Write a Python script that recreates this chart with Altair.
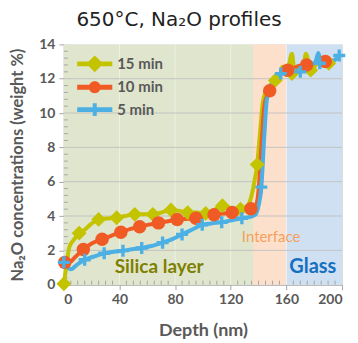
import altair as alt
import pandas as pd

# ---------------- data ----------------
series_names = ["15 min", "10 min", "5 min"]

# dense line points
l15_x = [0, 2, 4, 7, 11, 15, 19, 25, 31, 38, 44, 51, 57, 64, 70, 77, 83, 89, 95, 102, 108, 114, 121, 127,
         132, 135, 137, 139, 141, 143, 145, 148, 152, 155, 157, 160, 164, 166, 169, 172, 174, 177.5, 180, 184, 187, 190.5, 194]
l15_y = [0.05, 1.2, 2.2, 2.6, 3.0, 3.2, 3.5, 3.8, 3.85, 3.9, 4.0, 4.1, 4.1, 4.1, 4.2, 4.35, 4.3, 4.2, 4.2, 4.15, 4.35, 4.6, 4.45, 4.4,
         4.6, 5.2, 6.0, 7.0, 8.8, 10.6, 11.2, 11.6, 11.9, 12.1, 12.7, 12.2, 13.45, 12.3, 12.5, 12.6, 13.45, 12.5, 12.7, 13.0, 12.8, 12.9, 13.1]

l10_x = [0.7, 4, 8, 14, 20, 27.5, 34, 41, 48, 54.5, 61, 68, 75, 81.5, 88, 95, 101, 108, 114, 121, 128, 134.5,
         138, 140, 142, 144, 146, 148, 151, 155, 158, 161, 165, 169, 174.5, 180, 184, 188, 193]
l10_y = [1.3, 1.3, 1.6, 2.05, 2.4, 2.65, 2.85, 3.05, 3.25, 3.38, 3.5, 3.6, 3.7, 3.8, 3.83, 3.87, 3.97, 4.08, 4.14, 4.2, 4.3, 4.43,
         4.6, 5.5, 8.0, 10.3, 11.0, 11.3, 11.8, 12.2, 12.5, 12.5, 12.6, 12.75, 12.8, 12.9, 13.1, 13.0, 13.0]

l5_x = [0, 5, 10, 15, 22, 29, 36, 42.5, 49, 56, 63, 71, 78, 85, 92, 99.5, 106, 113.5, 121, 128, 134, 138,
        140, 142, 144, 146, 149, 152, 156, 160, 163, 166, 170, 174, 178, 181, 183, 185, 188, 192, 195, 198]
l5_y = [1.3, 0.9, 1.2, 1.45, 1.65, 1.83, 1.92, 1.98, 2.06, 2.14, 2.25, 2.45, 2.65, 2.93, 3.2, 3.49, 3.57, 3.64, 3.75, 3.87, 3.95, 4.1,
        4.6, 5.68, 8.5, 10.8, 11.6, 12.0, 12.3, 12.3, 12.2, 12.5, 12.4, 12.6, 12.8, 13.0, 13.5, 12.9, 12.9, 13.0, 13.1, 13.35]

# marker points
m15_x = [0, 11, 25, 38, 51, 64, 77, 89, 102, 114, 127, 139, 152, 164, 177.5, 190.5]
m15_y = [0.05, 3.0, 3.8, 3.9, 4.1, 4.1, 4.35, 4.2, 4.15, 4.6, 4.4, 7.0, 11.9, 12.3, 12.5, 12.9]
m10_x = [0.7, 14, 27.5, 41, 54.5, 68, 81.5, 95, 108, 121, 134.5, 148, 161, 174.5, 188]
m10_y = [1.3, 2.05, 2.65, 3.05, 3.38, 3.6, 3.8, 3.87, 4.08, 4.2, 4.43, 11.3, 12.5, 12.8, 13.0]
m5_x = [0, 15, 29, 42.5, 56, 71, 85, 99.5, 113.5, 128, 142, 156, 170, 184, 198]
m5_y = [1.3, 1.45, 1.83, 1.98, 2.14, 2.45, 2.93, 3.49, 3.64, 3.87, 5.68, 12.3, 12.4, 12.9, 13.35]

# background regions
band_names = ["Silica", "Interface", "Glass"]
band_start = [0, 136, 160]
band_end = [136, 160, 200]

# annotations
ann_text = ["Silica layer", "Interface", "Glass"]
ann_x = [68.5, 149, 179]
ann_y = [1.0, 2.75, 1.0]

# axis ticks
x_ticks = [0, 40, 80, 120, 160, 200]
y_ticks = [0, 2, 4, 6, 8, 10, 12, 14]
x_grid = [40, 80, 120, 160]
y_grid = [2, 4, 6, 8, 10, 12]
x_minor = [v for v in range(5, 200, 5) if v % 40 != 0]
y_minor = [round(i * 0.4, 1) for i in range(1, 35) if i % 5 != 0]

# ---------------- tables ----------------
lines_df = pd.concat([
    pd.DataFrame({"x": l15_x, "y": l15_y, "series": "15 min"}),
    pd.DataFrame({"x": l10_x, "y": l10_y, "series": "10 min"}),
    pd.DataFrame({"x": l5_x, "y": l5_y, "series": "5 min"}),
])
marks_df = pd.concat([
    pd.DataFrame({"x": m15_x, "y": m15_y, "series": "15 min"}),
    pd.DataFrame({"x": m10_x, "y": m10_y, "series": "10 min"}),
    pd.DataFrame({"x": m5_x, "y": m5_y, "series": "5 min"}),
])
bands_df = pd.DataFrame({"name": band_names, "start": band_start, "end": band_end})
ann_df = pd.DataFrame({"text": ann_text, "x": ann_x, "y": ann_y})

W, H = 279, 241
FONT = "Lato"
GRAY = "#595959"

xs = alt.Scale(domain=[0, 200], nice=False, zero=False)
ys = alt.Scale(domain=[0, 14], nice=False)

x_axis = alt.Axis(values=x_ticks, grid=False, domainColor="#a6a6a6", tickColor="#a6a6a6", tickSize=5,
                  labelFont=FONT, labelFontWeight="bold", labelFontSize=14, labelColor=GRAY, labelPadding=3,
                  title="Depth (nm)", titleFont=FONT, titleFontSize=18, titleFontWeight="bold",
                  titleColor=GRAY, titleY=46, titleBaseline="middle")
y_axis = alt.Axis(values=y_ticks, grid=False, domainColor="#a6a6a6", tickColor="#a6a6a6", tickSize=5,
                  labelFont=FONT, labelFontWeight="bold", labelFontSize=14, labelColor=GRAY, labelPadding=4,
                  title="Na₂O concentrations (weight %)", titleFont=FONT, titleFontSize=16.5,
                  titleFontWeight="bold", titleColor=GRAY, titleX=-46, titleY=H / 2, titleAngle=-90,
                  titleAlign="center", titleBaseline="middle")

def X(field):
    return alt.X(field, scale=xs, axis=x_axis)

def Y(field):
    return alt.Y(field, scale=ys, axis=y_axis)

series_colors = ["#c3c300", "#f05a24", "#4cb0e4"]
col_scale = alt.Scale(domain=series_names, range=series_colors)
diamond = "M0,-1L1,0L0,1L-1,0Z"
plus = "M-1,-0.28H1V0.28H-1Z M-0.28,-1H0.28V1H-0.28Z"
shape_scale = alt.Scale(domain=series_names, range=[diamond, "circle", plus])
size_scale = alt.Scale(domain=series_names, range=[220, 145, 190])

# legend keys: a line segment with the series marker on it
bar = "M-2.2,-0.3H2.2V0.3H-2.2Z"
leg_diamond = bar + " M0,-1.05L1.05,0L0,1.05L-1.05,0Z"
leg_circle = bar + " M-0.75,0A0.75,0.75 0 1,1 0.75,0A0.75,0.75 0 1,1 -0.75,0Z"
leg_plus = bar + " M-0.25,-0.8H0.25V0.8H-0.25Z"
leg_shape_scale = alt.Scale(domain=series_names, range=[leg_diamond, leg_circle, leg_plus])
leg_col_scale = alt.Scale(domain=series_names, range=series_colors)

band_scale = alt.Scale(domain=band_names, range=["#dfe6cd", "#fde0cb", "#cfe0f2"])

bands = alt.Chart(bands_df).mark_rect().encode(
    x=X("start:Q"),
    x2="end:Q",
    y=alt.value(0),
    y2=alt.value(H),
    fill=alt.Fill("name:N", scale=band_scale, legend=None),
)

ygrid = alt.Chart(pd.DataFrame({"v": y_grid})).mark_rule(color="#c3c3c3", strokeWidth=1).encode(
    y=Y("v:Q"),
)
xgrid = alt.Chart(pd.DataFrame({"v": x_grid})).mark_rule(color="#ffffff", opacity=0.45, strokeWidth=1).encode(
    x=X("v:Q"),
)
yminor = alt.Chart(pd.DataFrame({"v": y_minor})).mark_rule(color="#a6a6a6", strokeWidth=1).encode(
    y=Y("v:Q"), x=alt.value(0), x2=alt.value(4),
)
xminor = alt.Chart(pd.DataFrame({"v": x_minor})).mark_rule(color="#a6a6a6", strokeWidth=1).encode(
    x=X("v:Q"), y=alt.value(H), y2=alt.value(H - 4),
)

def ann_layer(i, color, size, weight):
    return alt.Chart(ann_df).transform_filter(alt.datum.text == ann_text[i]).mark_text(
        font=FONT, fontSize=size, fontWeight=weight, color=color, align="center", baseline="middle"
    ).encode(x=X("x:Q"), y=Y("y:Q"), text="text:N")

ann1 = ann_layer(0, "#7f7f00", 19, "bold")
ann2 = ann_layer(1, "#f5a05c", 15, "normal")
ann3 = ann_layer(2, "#1470c0", 20, "bold")

key_legend = alt.Legend(orient="none", legendX=23, legendY=11.5, title=None, symbolSize=256,
                        labelFont=FONT, labelFontWeight="bold", labelFontSize=15, labelColor=GRAY,
                        labelOffset=14.5, rowPadding=6.5, symbolStrokeWidth=0, symbolOpacity=1)

lines = alt.Chart(lines_df).mark_line(interpolate="monotone", strokeWidth=4).encode(
    x=X("x:Q"),
    y=Y("y:Q"),
    color=alt.Color("series:N", scale=col_scale, legend=None),
    detail="series:N",
)
points = alt.Chart(marks_df).mark_point(filled=True, opacity=1).encode(
    x=X("x:Q"),
    y=Y("y:Q"),
    color=alt.Color("series:N", scale=col_scale, legend=None),
    shape=alt.Shape("series:N", scale=shape_scale, legend=None),
    size=alt.Size("series:N", scale=size_scale, legend=None),
)
# invisible layer that only provides the legend keys (line + marker)
keys = alt.Chart(marks_df).mark_point(filled=True, opacity=0).encode(
    x=X("x:Q"),
    y=Y("y:Q"),
    color=alt.Color("series:N", scale=leg_col_scale, legend=key_legend),
    shape=alt.Shape("series:N", scale=leg_shape_scale, legend=key_legend),
)

chart = alt.layer(bands, xgrid, ygrid, yminor, xminor, ann1, ann2, ann3, lines, points, keys).resolve_scale(
    shape="independent", color="independent"
).properties(
    width=W, height=H,
    title=alt.TitleParams("650°C, Na₂O profiles", font="DejaVu Sans", fontSize=20, fontWeight="normal",
                          color="#222222", anchor="middle", dx=-24, offset=7),
    autosize=alt.AutoSizeParams(type="none"),
    padding={"left": 56, "top": 36, "right": 8, "bottom": 56},
).configure_view(stroke="#a6a6a6", strokeWidth=1).configure(background="white")

chart.save("out.html", embed_options={"renderer": "svg", "actions": False})
